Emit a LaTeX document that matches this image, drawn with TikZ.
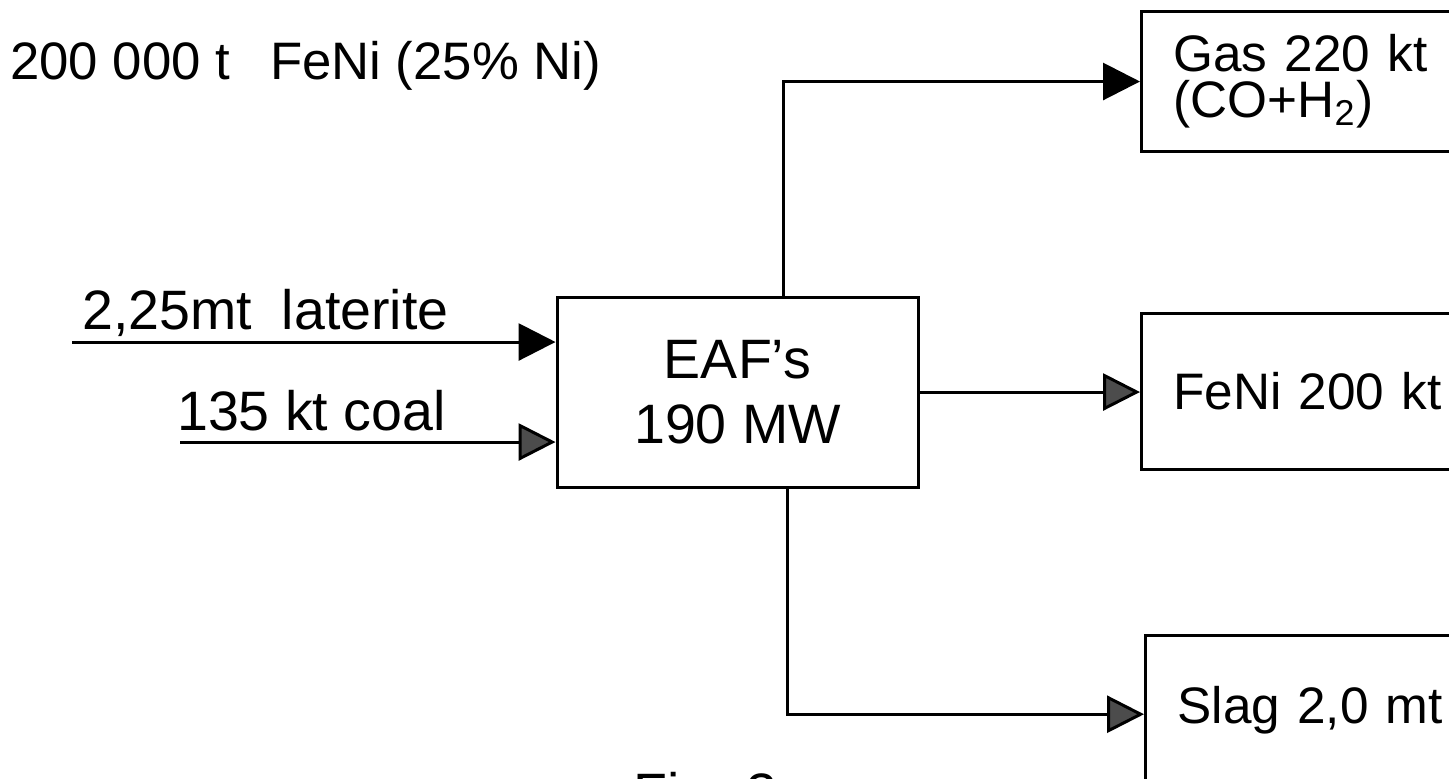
\documentclass[tikz,border=0pt]{standalone}
\usepackage{fontspec}
\setmainfont{Liberation Sans}
\usetikzlibrary{arrows.meta,positioning,calc}

\begin{document}
\begin{tikzpicture}[font=\fontsize{15.8}{18.4}\selectfont, line width=0.85pt,
  flow/.style={-{Triangle[length=3.7mm,width=3.7mm]}},
  flowgray/.style={-{Triangle[length=3.7mm,width=3.7mm,fill=black!70]}},
  unit/.style={draw,minimum width=36.1mm,minimum height=19mm,align=center},
  outbox/.style={draw,anchor=north west,align=left,text width=33mm,inner xsep=3.2mm,
    font=\fontsize{14.6}{17}\selectfont}]
\useasboundingbox (0,0) rectangle (14.49,-7.78);
\node[anchor=west,font=\fontsize{15}{18}\selectfont] (title) at (-0.03,-0.66) {200 000 t\hspace{4mm}FeNi (25\% Ni)};
% furnace
\node[unit] (eaf) at (7.375,-3.92) {EAF’s\\190 MW};
% products
\node[outbox,minimum height=14mm] (gas) at (11.40,-0.10) {Gas 220 kt\\[-4pt](CO+H\textsubscript{2})};
\node[outbox,minimum height=15.6mm] (feni) at (11.40,-3.12) {FeNi 200 kt};
\node[outbox,inner ysep=0pt,text height=8.8mm,text depth=10mm] (slag) at (11.44,-6.34) {Slag 2,0 mt};
% feed
\coordinate (latin) at (0.72,-3.42);
\coordinate (coalin) at (1.80,-4.42);
\node[anchor=base west] (latlbl) at (0.69,-3.29) {2,25mt\hspace{3mm}laterite};
\node[anchor=base west] (coallbl) at (1.64,-4.30) {135 kt coal};
\draw[flow] (latin) -- (latin -| eaf.west);
\draw[flowgray] (coalin) -- (coalin -| eaf.west);
% out of the furnace
\draw[flow] ([xshift=4.55mm]eaf.north) |- (gas.west);
\draw[flowgray] (eaf.east) -- (eaf.east -| feni.west);
\draw[flowgray] ([xshift=4.95mm]eaf.south) |- (slag.mid west);
\node[anchor=north west,inner sep=0pt] (figcap) at (6.32,-7.71) {Fig. 3};
\end{tikzpicture}
\end{document}
